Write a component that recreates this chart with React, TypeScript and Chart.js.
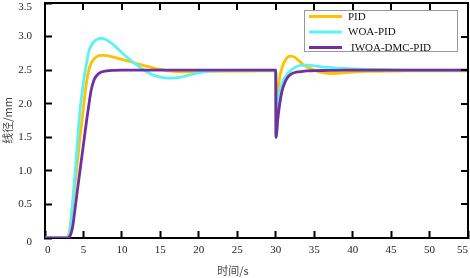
import React, { useEffect, useRef } from "react";
import { Chart, registerables } from "chart.js";

Chart.register(...registerables);

// time axis (s)
const timeS: number[] = [
  0, 2.9, 3.1, 3.3, 3.6, 3.9, 4.2, 4.5, 4.8, 5.1, 5.4, 5.7, 6.0, 6.4, 6.8, 7.2, 7.6, 8,
  9, 10, 11, 12, 13, 14, 15, 16, 17, 18, 19, 20, 21, 22, 24, 26, 28, 30,
  30.06, 30.25, 30.5, 30.8, 31.2, 31.6, 32, 32.5, 33, 33.5, 34, 35, 36, 37, 38, 39, 40,
  42, 45, 48, 51, 55,
];

// 线径/mm
const pidValues: number[] = [
  0, 0, 0.06, 0.2, 0.5, 0.8, 1.12, 1.45, 1.75, 2.05, 2.32, 2.5, 2.6, 2.67, 2.705, 2.72, 2.72, 2.715,
  2.69, 2.66, 2.63, 2.595, 2.565, 2.535, 2.51, 2.49, 2.48, 2.475, 2.475, 2.478, 2.48, 2.482, 2.485, 2.487, 2.488, 2.488,
  1.5, 2.1, 2.38, 2.53, 2.64, 2.7, 2.71, 2.69, 2.64, 2.59, 2.55, 2.5, 2.465, 2.45, 2.452, 2.462, 2.472,
  2.482, 2.487, 2.488, 2.488, 2.488,
];

const woaValues: number[] = [
  0, 0, 0.03, 0.15, 0.55, 0.95, 1.4, 1.85, 2.15, 2.4, 2.6, 2.78, 2.86, 2.93, 2.96, 2.975, 2.97, 2.95,
  2.87, 2.76, 2.66, 2.57, 2.49, 2.43, 2.395, 2.38, 2.385, 2.405, 2.435, 2.46, 2.48, 2.49, 2.497, 2.5, 2.5, 2.5,
  1.5, 1.95, 2.17, 2.3, 2.39, 2.45, 2.5, 2.54, 2.565, 2.575, 2.575, 2.565, 2.55, 2.54, 2.53, 2.525, 2.52,
  2.512, 2.505, 2.5, 2.5, 2.5,
];

const iwoaValues: number[] = [
  0, 0, 0.01, 0.04, 0.17, 0.43, 0.7, 0.96, 1.22, 1.48, 1.74, 1.98, 2.2, 2.36, 2.43, 2.465, 2.48, 2.49,
  2.497, 2.5, 2.5, 2.5, 2.5, 2.5, 2.5, 2.5, 2.5, 2.5, 2.5, 2.5, 2.5, 2.5, 2.5, 2.5, 2.5, 2.5,
  1.5, 1.75, 1.98, 2.18, 2.32, 2.4, 2.44, 2.465, 2.475, 2.483, 2.488, 2.492, 2.495, 2.497, 2.498, 2.499, 2.5,
  2.5, 2.5, 2.5, 2.5, 2.5,
];

// disturbance marker at t = 30 s
const disturbT: number[] = [30, 30];
const disturbValues: number[] = [2.5, 1.5];

const seriesLabels: string[] = ["PID", "WOA-PID", "IWOA-DMC-PID"];
const seriesColors: string[] = ["#FFC000", "#5CF2F2", "#7030A0"];

const xTitle = "时间/s";
const yTitle = "线径/mm";

const SERIF = "'Liberation Serif', 'Times New Roman', 'Noto Sans CJK SC', serif";
const CJK = "'Noto Sans CJK SC', 'Liberation Serif', serif";

const toPoints = (xs: number[], ys: number[]) => xs.map((x, i) => ({ x, y: ys[i] }));

// mirrors the axes on the top and right sides (frame + inward ticks) and draws the boxed legend
const framePlugin = {
  id: "frameLegend",
  afterDraw(chart: any) {
    const ctx = chart.ctx as CanvasRenderingContext2D;
    const { left, right, top, bottom } = chart.chartArea;
    const xs = chart.scales.x;
    const ys = chart.scales.y;
    ctx.save();
    ctx.strokeStyle = "#000000";
    ctx.lineWidth = 2;
    ctx.beginPath();
    ctx.moveTo(left - 1, top);
    ctx.lineTo(right, top);
    ctx.lineTo(right, bottom + 1);
    ctx.stroke();
    ctx.beginPath();
    xs.ticks.forEach((t: any) => {
      const px = Math.round(xs.getPixelForValue(t.value));
      ctx.moveTo(px, top);
      ctx.lineTo(px, top + 7);
    });
    ys.ticks.forEach((t: any) => {
      const py = Math.round(ys.getPixelForValue(t.value));
      ctx.moveTo(right, py);
      ctx.lineTo(right - 7, py);
    });
    ctx.stroke();

    // legend box
    const bx = 304.5, by = 10.5, bw = 153, bh = 41;
    ctx.fillStyle = "#ffffff";
    ctx.fillRect(bx, by, bw, bh);
    ctx.strokeStyle = "#999999";
    ctx.lineWidth = 1;
    ctx.strokeRect(bx, by, bw, bh);
    const rows = [16.5, 32, 47.5];
    ctx.font = `11px ${SERIF}`;
    ctx.textBaseline = "middle";
    ctx.textAlign = "left";
    seriesLabels.forEach((lab, i) => {
      const ds = chart.data.datasets[i];
      ctx.strokeStyle = ds.borderColor;
      ctx.lineWidth = 2.8;
      ctx.beginPath();
      ctx.moveTo(309, rows[i]);
      ctx.lineTo(342, rows[i]);
      ctx.stroke();
      ctx.fillStyle = "#111111";
      ctx.fillText(lab, i === 2 ? 351 : 348, rows[i] + 0.5);
    });
    // x axis title
    ctx.font = `11px ${CJK}`;
    ctx.fillStyle = "#444444";
    ctx.textAlign = "center";
    ctx.fillText(xTitle, 233, 271);
    ctx.restore();
  },
};

const gridOpts = {
  drawOnChartArea: false,
  drawTicks: true,
  tickLength: -7,
  tickWidth: 2,
  tickColor: "#000000",
};
const borderOpts = { display: true, color: "#000000", width: 2 };

export default function App() {
  const ref = useRef<HTMLCanvasElement | null>(null);

  useEffect(() => {
    document.body.style.margin = "0";
    const canvas = ref.current;
    if (!canvas) return;
    const mk = (i: number, ys: number[], order: number) => ({
      label: seriesLabels[i],
      data: toPoints(timeS, ys),
      borderColor: seriesColors[i],
      backgroundColor: seriesColors[i],
      borderWidth: 2.8,
      pointRadius: 0,
      fill: false,
      cubicInterpolationMode: "monotone" as const,
      order,
    });
    const chart = new Chart(canvas, {
      type: "line",
      data: {
        datasets: [
          mk(0, pidValues, 3),
          mk(1, woaValues, 2),
          mk(2, iwoaValues, 1),
          {
            label: "disturbance",
            data: toPoints(disturbT, disturbValues),
            borderColor: "#000000",
            backgroundColor: "#000000",
            borderWidth: 2,
            pointRadius: 0,
            fill: false,
            order: 4,
          },
        ],
      },
      options: {
        responsive: false,
        animation: false,
        layout: { padding: { top: 3, right: 2, left: 0, bottom: 0 } },
        plugins: {
          legend: { display: false },
          tooltip: { enabled: false },
        },
        scales: {
          x: {
            type: "linear",
            position: "bottom",
            min: 0,
            max: 55,
            ticks: {
              stepSize: 5,
              padding: 13,
              align: "inner",
              color: "#222222",
              font: { family: SERIF, size: 11 },
              maxRotation: 0,
            },
            grid: gridOpts,
            border: borderOpts,
            afterFit: (s: any) => {
              s.height = 40;
              s.paddingLeft = 0;
              s.paddingRight = 0;
            },
          },
          y: {
            type: "linear",
            position: "left",
            min: 0,
            max: 3.5,
            ticks: {
              stepSize: 0.5,
              padding: 20,
              color: "#222222",
              font: { family: SERIF, size: 11, lineHeight: 0.7 },
              // end labels are pushed inward (down) by a blank first line
              callback: (v: any) => {
                const n = Number(v);
                if (n === 0) return ["", "0"];
                if (n === 3.5) return ["", "3.5"];
                return n.toFixed(1);
              },
            },
            title: {
              display: true,
              text: yTitle,
              color: "#444444",
              font: { family: CJK, size: 11 },
              padding: { top: 1, bottom: 0 },
            },
            grid: gridOpts,
            border: borderOpts,
            afterFit: (s: any) => {
              s.width = 45;
              s.paddingTop = 0;
              s.paddingBottom = 0;
            },
          },
        },
      },
      plugins: [framePlugin],
    });
    return () => chart.destroy();
  }, []);

  return (
    <div style={{ width: 470, height: 278 }}>
      <canvas ref={ref} width={470} height={278} />
    </div>
  );
}
